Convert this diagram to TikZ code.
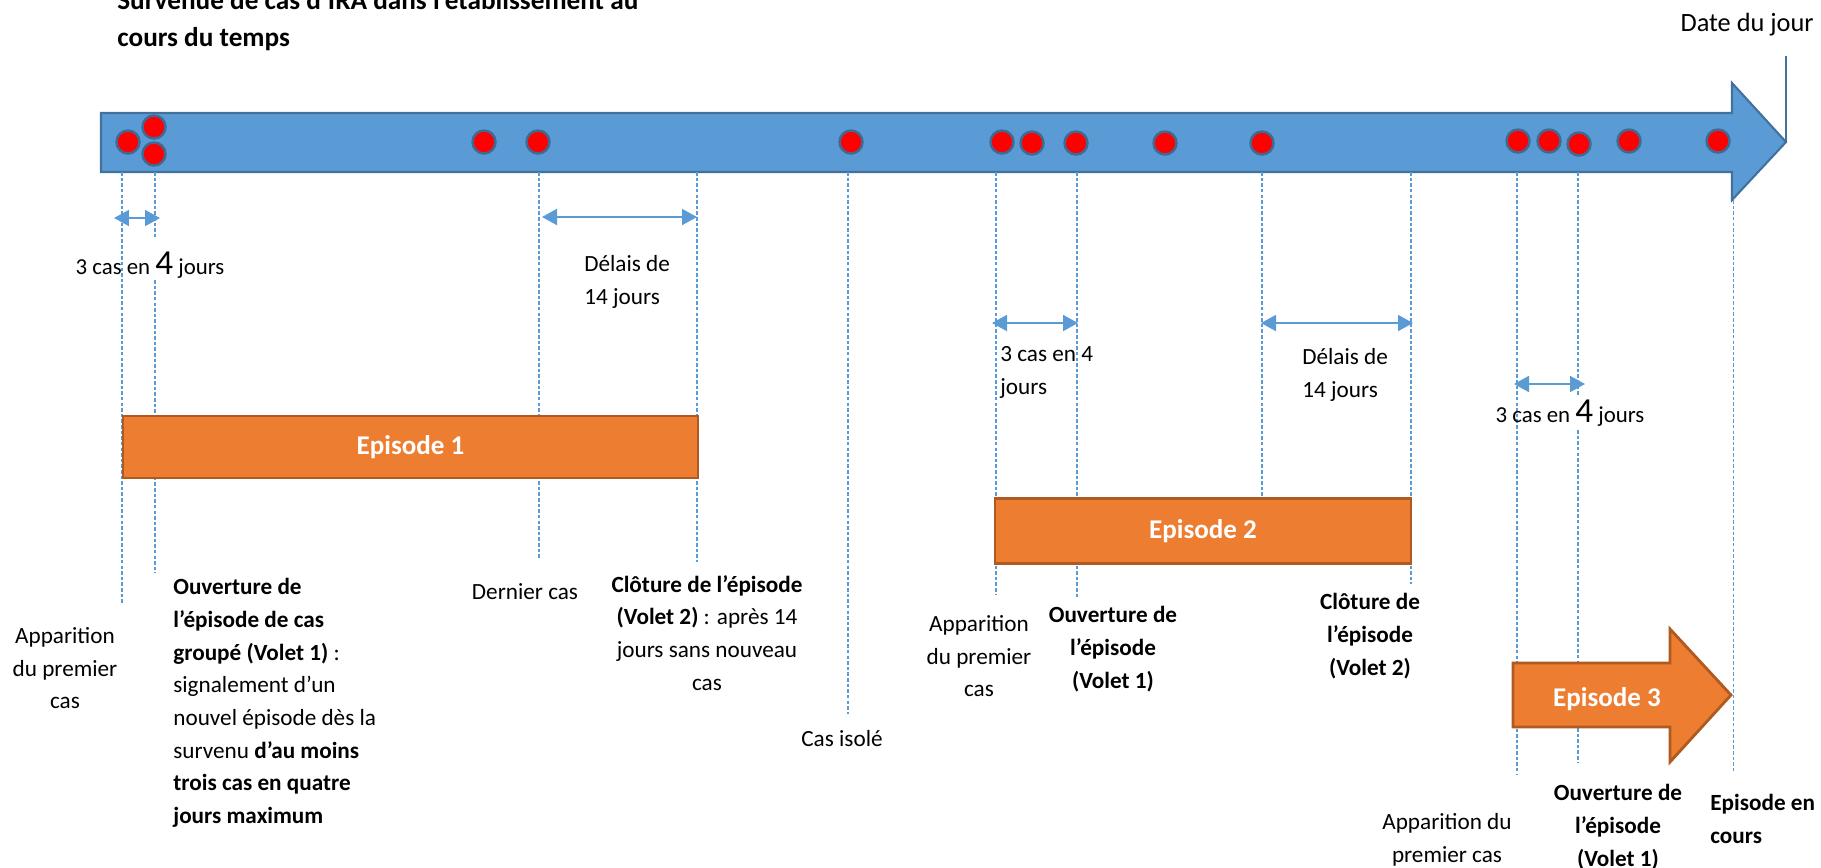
\documentclass[tikz,border=0pt]{standalone}
\usepackage{fontspec}
\setmainfont{Carlito}
\usetikzlibrary{arrows.meta,positioning}
\definecolor{axisblue}{HTML}{5B9BD5}
\definecolor{axisedge}{HTML}{41719C}
\definecolor{dotedge}{HTML}{3E6A93}
\definecolor{episodeorange}{HTML}{ED7D31}
\definecolor{episodeedge}{HTML}{AE5A21}

\begin{document}
\begin{tikzpicture}[x=0.02cm,y=-0.02cm,
    every node/.style={inner sep=0pt,font=\fontsize{13.2}{18.6}\selectfont},
    dot/.style={circle,fill=red,draw=dotedge,line width=1.4pt,minimum size=0.46cm},
    cut/.style={draw=axisblue,line width=0.6pt,dash pattern=on 2pt off 1.2pt},
    spanarrow/.style={draw=axisblue,line width=1.1pt,
      {Triangle[length=0.3cm,width=0.32cm]}-{Triangle[length=0.3cm,width=0.32cm]}},
    episode/.style={fill=episodeorange,draw=episodeedge,line width=1.6pt},
    eptext/.style={text=white,font=\fontsize{15.4}{18}\selectfont\bfseries},
    note/.style={align=center,anchor=north},
    lnote/.style={align=left,anchor=north west},
    bnote/.style={note,font=\fontsize{13.2}{18.6}\selectfont\bfseries},
    span label/.style={anchor=base,font=\fontsize{13}{15}\selectfont}]
  \useasboundingbox (0,0) rectangle (1821,867);

  % time axis
  \path[fill=axisblue,draw=axisedge,line width=1.2pt]
    (101,113) -- (1732,113) -- (1732,83) -- (1786,142) -- (1732,200) -- (1732,172) -- (101,172) -- cycle;
  \coordinate (tip) at (1786,142);
  \coordinate (mark) at (1786,56);
  \draw[axisedge,line width=1.1pt] (tip) -- (mark);

  \node[anchor=north west,align=left,font=\fontsize{15.5}{21.5}\selectfont\bfseries] (title) at (117,-11)
    {Survenue de cas d’IRA dans l’établissement au\\cours du temps};
  \node[anchor=east,font=\fontsize{15}{18}\selectfont] (today) at (1814,25) {Date du jour};

  \foreach \x/\y [count=\i] in {128/142,154/127,154/154,484/142,538/142,851/142,1002/142,1032/143,
      1076/143,1165/143,1262/143,1518/141,1549/141,1579/144,1629/141,1718/141}
    \node[dot] (c\i) at (\x,\y) {};

  % repères
  \foreach \x/\a/\b in {122/172/603,155/172/237,155/280/573,539/172/559,697/172/562,848/172/714,
      996/172/594,1077/172/598,1262/172/499,1411/172/584,1517/172/775,1578/172/395,1578/430/763,1733/200/772}
    \draw[cut] (\x,\a) -- (\x,\b);

  \foreach \a/\b/\y [count=\i] in {114/160/218,542/697/217,992/1078/323,1261/1413/323,1514/1585/384} {
    \coordinate (s\i) at (\a,\y);
    \coordinate (e\i) at (\b,\y);
    \draw[spanarrow] (s\i) -- (e\i);
  }

  \node[span label] (q1) at (150,274) {3 cas en {\fontsize{20}{20}\selectfont 4} jours};
  \node[lnote] (delay1) at (584,255) {Délais de\\14 jours};
  \node[lnote] (q3) at (1000,346) {3 cas en 4\\jours};
  \node[lnote] (delay2) at (1302,348) {Délais de\\14 jours};
  \node[span label] (q5) at (1570,422) {3 cas en {\fontsize{20}{20}\selectfont 4} jours};

  % episodes
  \node[episode,minimum width=11.5cm,minimum height=1.24cm] (ep1) at (410.5,447) {};
  \node[eptext] at (ep1) {Episode 1};
  \node[episode,minimum width=8.32cm,minimum height=1.3cm] (ep2) at (1203,531) {};
  \node[eptext] at (ep2) {Episode 2};
  \path[episode] (1513,663) -- (1670,663) -- (1670,629) -- (1731,695) -- (1670,762) -- (1670,727) -- (1513,727) -- cycle;
  \node[eptext] (ep3) at (1607,699) {Episode 3};

  \node[note] (first1) at (65,627) {Apparition\\du premier\\cas};
  \node[lnote] (open1) at (173,578)
    {\textbf{Ouverture de}\\\textbf{l’épisode de cas}\\\textbf{groupé (Volet 1)} :\\signalement d’un\\
     nouvel épisode dès la\\survenu \textbf{d’au moins}\\\textbf{trois cas en quatre}\\\textbf{jours maximum}};
  \node (last1) at (525,592) {Dernier cas};
  \node[note] (close1) at (707,575)
    {\textbf{Clôture de l’épisode}\\\textbf{(Volet 2)} : après 14\\jours sans nouveau\\cas};
  \node (isolated) at (842,739) {Cas isolé};
  \node[note] (first2) at (979,615) {Apparition\\du premier\\cas};
  \node[bnote] (open2) at (1113,606) {Ouverture de\\l’épisode\\(Volet 1)};
  \node[bnote] (close2) at (1370,593) {Clôture de\\l’épisode\\(Volet 2)};
  \node[note] (first3) at (1447,813) {Apparition du\\premier cas};
  \node[bnote] (open3) at (1618,784) {Ouverture de\\l’épisode\\(Volet 1)};
  \node[lnote,font=\fontsize{13.2}{18.6}\selectfont\bfseries] (ongoing) at (1710,794) {Episode en\\cours};
\end{tikzpicture}
\end{document}
